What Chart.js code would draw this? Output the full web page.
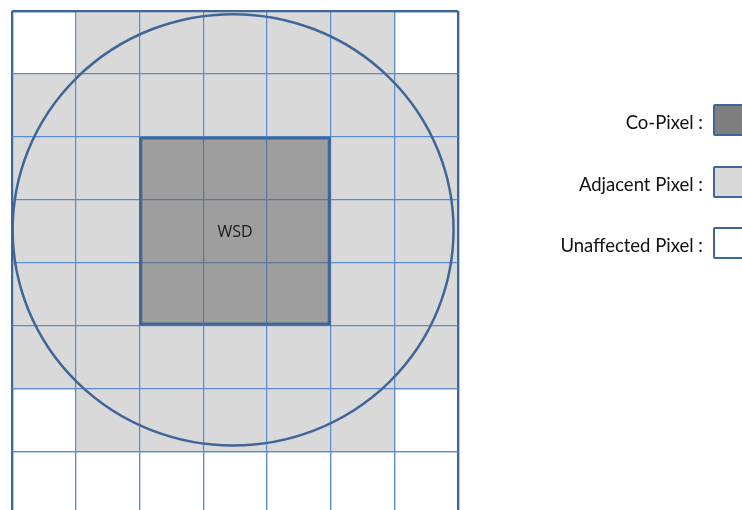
<!DOCTYPE html>
<html>
<head>
<meta charset="utf-8">
<title>WSD pixels</title>
<script src="https://cdn.jsdelivr.net/npm/chart.js@4/dist/chart.umd.min.js"></script>
<style>
	body { margin: 0; overflow: hidden; background: #fff; }
	#wrapper { position: relative; width: 742px; height: 514px; overflow: hidden; }
	#legend { position: absolute; left: 0; top: 0; width: 742px; height: 300px; }
	.legend__item { position: absolute; left: 0; width: 742px; height: 32px; }
	.legend__text {
		position: absolute; right: 39px; top: 2px; line-height: 32px;
		font-family: Lato, "Open Sans", sans-serif; font-size: 18.5px; color: #111; white-space: nowrap;
	}
	.legend__box {
		position: absolute; left: 713px; top: 0; width: 34px; height: 32px;
		box-sizing: border-box; border: 2px solid #3f6699; border-radius: 2px;
	}
</style>
</head>
<body>
<div id="wrapper">
	<canvas id="grid" width="742" height="514"></canvas>
	<div id="legend"></div>
</div>
<script>
// columns of the pixel grid, rows counted from the top
const columns = ['1', '2', '3', '4', '5', '6', '7'];
const rowTicks = [0, 1, 2, 3, 4, 5, 6, 7, 8];

// [first row, last row] covered in each column
const adjacentRows = [[1, 6], [0, 7], [0, 7], [0, 7], [0, 7], [0, 7], [1, 6]];
const coPixelRows = [null, null, [2, 5], [2, 5], [2, 5], null, null];

// WSD footprint (column index, row)
const wsdLabel = 'WSD';
const wsdCenter = [2.97, 3.48];
const wsdRadius = [3.46, 3.43];

const legendLabels = ['Co-Pixel :', 'Adjacent Pixel :', 'Unaffected Pixel :'];
const legendColors = ['#7f7f7f', '#d9d9d9', '#ffffff'];

const gridColor = '#5b8bcb';
const edgeColor = '#3f6699';

/* legend --------------------------------*/
const legend = document.getElementById('legend');
legendLabels.forEach(function(label, i) {
	const item = document.createElement('div');
	item.className = 'legend__item';
	item.style.top = (104 + i * 61.5) + 'px';
	item.innerHTML = '<span class="legend__text">' + label + '</span>' +
		'<span class="legend__box" style="background:' + legendColors[i] + '"></span>';
	legend.appendChild(item);
});

/* plugins --------------------------------*/
// grid lines go over the light cells but under the co-pixel block
const gridOver = {
	id: 'gridOver',
	afterDatasetDraw(chart, args) {
		if (args.index !== 0) return;
		chart.scales.x.drawGrid(chart.chartArea);
		chart.scales.y.drawGrid(chart.chartArea);
	}
};

const wsdMarks = {
	id: 'wsdMarks',
	afterDatasetsDraw(chart) {
		const ctx = chart.ctx;
		const x = chart.scales.x;
		const y = chart.scales.y;
		const cx = x.getPixelForValue(wsdCenter[0]);
		const cy = y.getPixelForValue(wsdCenter[1]);
		const rx = Math.abs(x.getPixelForValue(wsdCenter[0] + wsdRadius[0]) - cx);
		const ry = Math.abs(y.getPixelForValue(wsdCenter[1] + wsdRadius[1]) - cy);

		ctx.save();
		ctx.beginPath();
		ctx.ellipse(cx, cy, rx, ry, 0, 0, Math.PI * 2);
		ctx.strokeStyle = edgeColor;
		ctx.lineWidth = 2.5;
		ctx.stroke();

		// label in the middle of the co-pixel block
		const cols = [];
		coPixelRows.forEach(function(r, i) { if (r) cols.push(i); });
		const mx = (x.getPixelForValue(cols[0]) + x.getPixelForValue(cols[cols.length - 1])) / 2;
		const my = (y.getPixelForValue(coPixelRows[cols[0]][0]) + y.getPixelForValue(coPixelRows[cols[0]][1])) / 2;
		ctx.fillStyle = '#1a1a1a';
		ctx.font = '16px "Open Sans", sans-serif';
		ctx.textAlign = 'center';
		ctx.textBaseline = 'middle';
		ctx.fillText(wsdLabel, mx, my + 1);
		ctx.restore();
	}
};

/* chart --------------------------------*/
function coBorder(c) {
	const w = 2.5;
	if (c.dataIndex === 2) return { left: w, top: w, bottom: w, right: 0 };
	if (c.dataIndex === 4) return { left: 0, top: w, bottom: w, right: w };
	return { left: 0, top: w, bottom: w, right: 0 };
}

new Chart(document.getElementById('grid'), {
	type: 'bar',
	data: {
		labels: columns,
		datasets: [{
			label: 'Adjacent Pixel',
			data: adjacentRows,
			backgroundColor: '#d9d9d9',
			borderWidth: 0,
			order: 2
		}, {
			label: 'Co-Pixel',
			data: coPixelRows,
			backgroundColor: 'rgba(99, 99, 99, 0.5)',
			borderColor: edgeColor,
			borderWidth: coBorder,
			borderSkipped: false,
			order: 1
		}]
	},
	options: {
		responsive: false,
		animation: false,
		grouped: false,
		barPercentage: 1,
		categoryPercentage: 1,
		layout: { padding: { left: 12, top: 11, right: 284, bottom: 0 } },
		plugins: {
			legend: { display: false },
			tooltip: { enabled: false }
		},
		scales: {
			x: {
				ticks: { display: false },
				border: { display: false },
				grid: {
					offset: true,
					drawTicks: false,
					color: c => (c.type === 'scale' || c.index === 0) ? edgeColor : gridColor,
					lineWidth: c => (c.type === 'scale' || c.index === 0) ? 2.2 : 1.2
				}
			},
			y: {
				reverse: true,
				min: rowTicks[0],
				max: rowTicks[rowTicks.length - 1],
				afterBuildTicks: s => { s.ticks = rowTicks.map(v => ({ value: v })); },
				ticks: { display: false },
				border: { display: false },
				grid: {
					drawTicks: false,
					color: c => (c.tick && c.tick.value === 0) ? edgeColor : gridColor,
					lineWidth: c => (c.tick && c.tick.value === 0) ? 2.2 : 1.2
				}
			}
		}
	},
	plugins: [gridOver, wsdMarks]
});
</script>
</body>
</html>
